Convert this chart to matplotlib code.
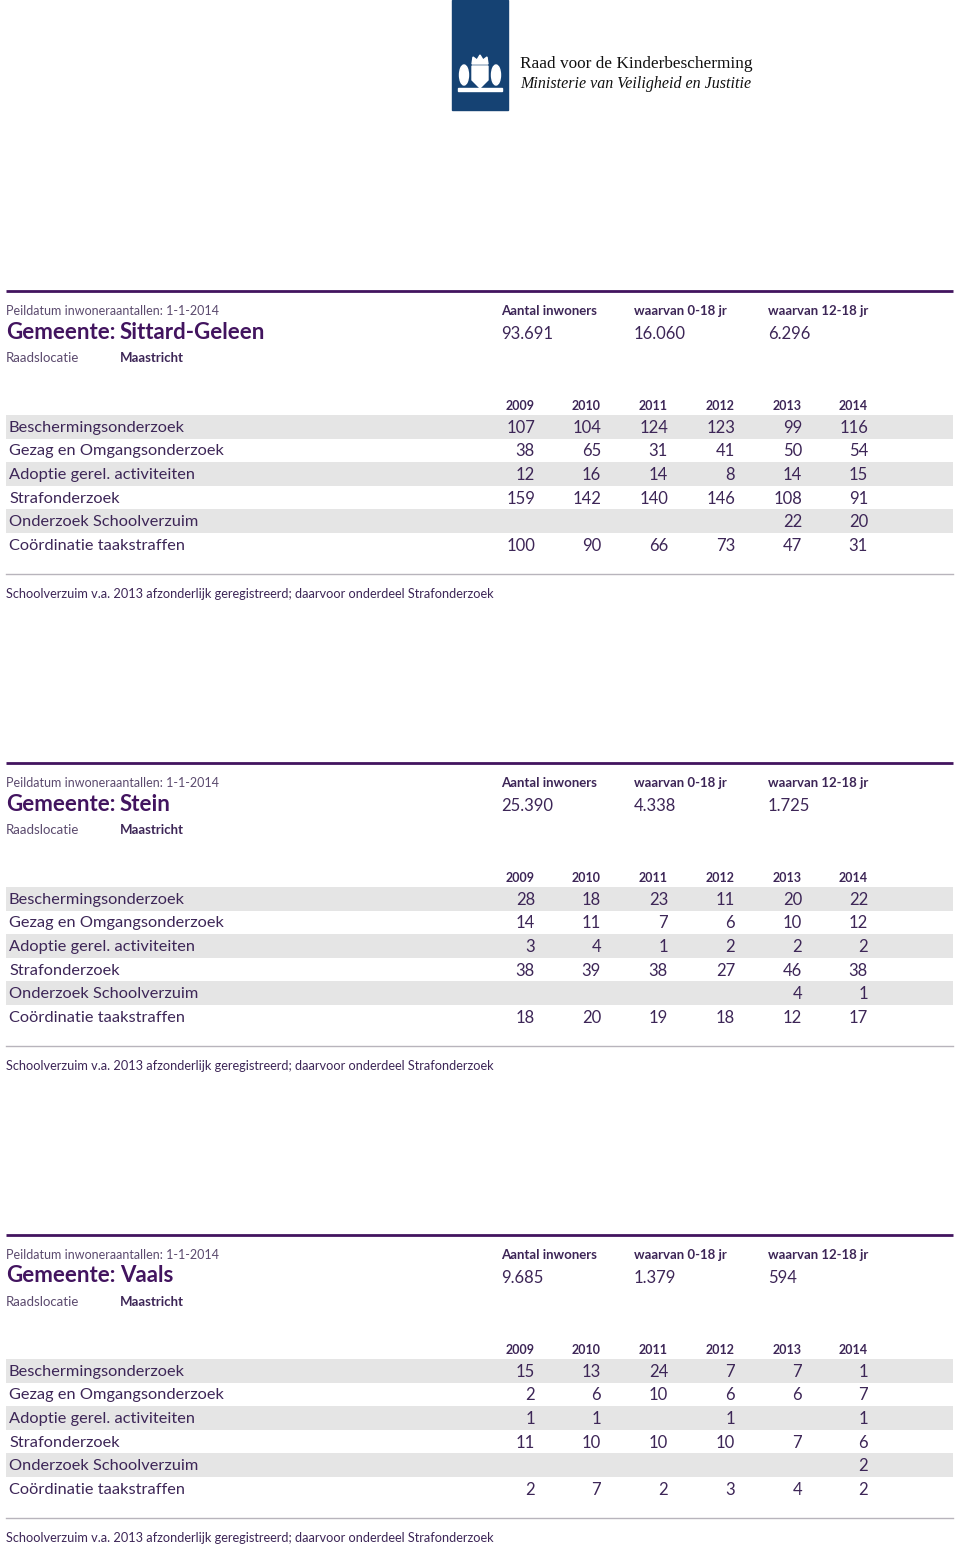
import matplotlib
matplotlib.use("Agg")
import matplotlib.pyplot as plt
from matplotlib.patches import Rectangle, Polygon, Ellipse

plt.rcParams["font.family"] = ["Lato", "DejaVu Sans"]

# -----------------------------
# DATA
# -----------------------------
years = ["2009", "2010", "2011", "2012", "2013", "2014"]
activities = [
    "Beschermingsonderzoek",
    "Gezag en Omgangsonderzoek",
    "Adoptie gerel. activiteiten",
    "Strafonderzoek",
    "Onderzoek Schoolverzuim",
    "Coördinatie taakstraffen",
]

municipalities = ["Sittard-Geleen", "Stein", "Vaals"]
inhabitants = ["93.691", "25.390", "9.685"]
age_0_18 = ["16.060", "4.338", "1.379"]
age_12_18 = ["6.296", "1.725", "594"]
locations = ["Maastricht", "Maastricht", "Maastricht"]

# None = empty cell
sittard_geleen = [
    [107, 104, 124, 123, 99, 116],
    [38, 65, 31, 41, 50, 54],
    [12, 16, 14, 8, 14, 15],
    [159, 142, 140, 146, 108, 91],
    [None, None, None, None, 22, 20],
    [100, 90, 66, 73, 47, 31],
]
stein = [
    [28, 18, 23, 11, 20, 22],
    [14, 11, 7, 6, 10, 12],
    [3, 4, 1, 2, 2, 2],
    [38, 39, 38, 27, 46, 38],
    [None, None, None, None, 4, 1],
    [18, 20, 19, 18, 12, 17],
]
vaals = [
    [15, 13, 24, 7, 7, 1],
    [2, 6, 10, 6, 6, 7],
    [1, 1, None, 1, None, 1],
    [11, 10, 10, 10, 7, 6],
    [None, None, None, None, None, 2],
    [2, 7, 2, 3, 4, 2],
]
tables = [sittard_geleen, stein, vaals]

footnote = "Schoolverzuim v.a. 2013 afzonderlijk geregistreerd; daarvoor onderdeel Strafonderzoek"

# -----------------------------
# STYLE
# -----------------------------
PURPLE = "#42145f"
TEXT = "#3d2657"
LIGHT = "#5b4a6e"
BAND = "#e5e5e5"
RULE = "#b8b4bc"

col_x = [535, 601, 668, 735, 802, 868]

fig = plt.figure(figsize=(9.6, 15.49), dpi=100)
ax = fig.add_axes([0, 0, 1, 1])
ax.set_xlim(0, 960)
ax.set_ylim(1549, 0)
ax.axis("off")

# -----------------------------
# LOGO
# -----------------------------
ax.add_patch(Rectangle((452, 0), 56, 110, color="#154273", zorder=1))
# simplified crest
ax.add_patch(Polygon([(472, 66), (488, 66), (488, 80), (480, 88), (472, 80)],
                     closed=True, color="white", zorder=2))
ax.add_patch(Polygon([(472, 64), (473, 57), (477, 60), (480, 55), (483, 60),
                      (487, 57), (488, 64)], closed=True, color="white", zorder=2))
ax.add_patch(Ellipse((464, 75), 9, 20, color="white", zorder=2))
ax.add_patch(Ellipse((496, 75), 9, 20, color="white", zorder=2))
ax.add_patch(Rectangle((458, 88), 44, 3, color="white", zorder=2))
ax.text(520, 64, "Raad voor de Kinderbescherming", fontsize=12.4,
        family=["Liberation Serif", "DejaVu Serif"], color="#111111", va="center")
ax.text(520, 84, "Ministerie van Veiligheid en Justitie", fontsize=11.5,
        family=["Liberation Serif", "DejaVu Serif"], style="italic",
        color="#111111", va="center")

# -----------------------------
# SECTIONS
# -----------------------------
for i, name in enumerate(municipalities):
    y0 = 291 + i * 472

    ax.plot([6, 953], [y0, y0], color=PURPLE, lw=2, solid_capstyle="butt")

    ax.text(6, y0 + 20, "Peildatum inwoneraantallen: 1-1-2014", fontsize=9,
            color=LIGHT, va="center")
    ax.text(6, y0 + 41, "Gemeente:", fontsize=16, fontweight="bold",
            color=PURPLE, va="center")
    ax.text(120, y0 + 41, name, fontsize=16, fontweight="bold",
            color=PURPLE, va="center")
    ax.text(6, y0 + 67, "Raadslocatie", fontsize=9.5, color=LIGHT, va="center")
    ax.text(120, y0 + 67, locations[i], fontsize=9.5, fontweight="bold",
            color=TEXT, va="center")

    heads = ["Aantal inwoners", "waarvan 0-18 jr", "waarvan 12-18 jr"]
    vals = [inhabitants[i], age_0_18[i], age_12_18[i]]
    for hx, h, v in zip([501, 634, 768], heads, vals):
        ax.text(hx, y0 + 20, h, fontsize=9.5, fontweight="bold",
                color=TEXT, va="center")
        ax.text(hx, y0 + 43, v, fontsize=12, color=TEXT, va="center")

    for x, yr in zip(col_x, years):
        ax.text(x, y0 + 115, yr, fontsize=9, fontweight="bold",
                color=TEXT, va="center", ha="right")

    row_h = 23.6
    top = y0 + 124
    for r, label in enumerate(activities):
        ry = top + r * row_h
        if r % 2 == 0:
            ax.add_patch(Rectangle((6, ry), 947, row_h, color=BAND, lw=0, zorder=0))
        cy = ry + row_h / 2 + 1
        ax.text(9, cy, label, fontsize=11.8, color=TEXT, va="center")
        for x, val in zip(col_x, tables[i][r]):
            if val is not None:
                ax.text(x, cy, str(val), fontsize=12, color=TEXT,
                        va="center", ha="right")

    ax.plot([6, 953], [y0 + 283, y0 + 283], color=RULE, lw=1)
    ax.text(6, y0 + 303, footnote, fontsize=9.2, color=TEXT, va="center")

fig.savefig("out.png", dpi=100)
